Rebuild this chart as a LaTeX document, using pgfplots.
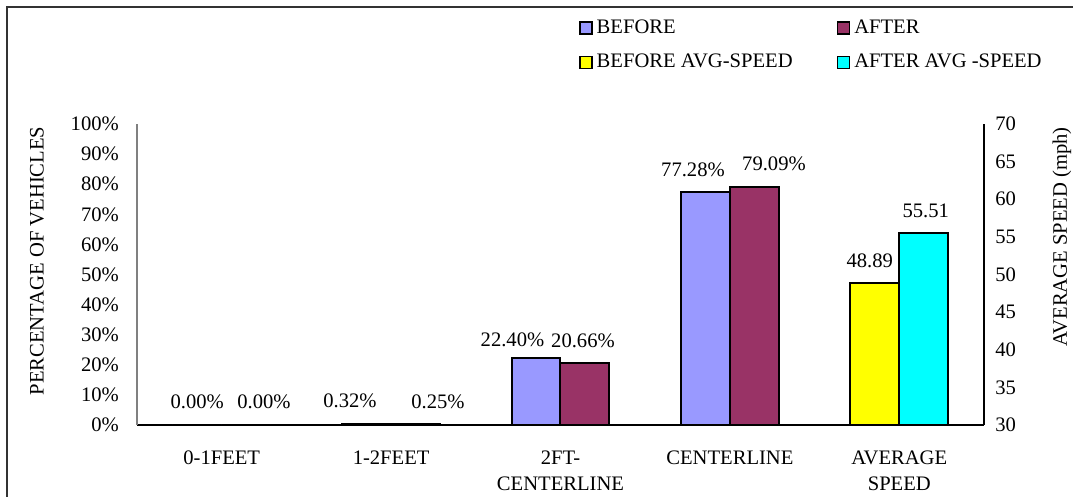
\documentclass[border=0pt]{standalone}
\usepackage{fontspec}
\setmainfont{Liberation Serif}
\usepackage{pgfplots}
\usepackage{pgfplotstable}
\pgfplotsset{compat=1.18}

\definecolor{beforeC}{HTML}{9999FF}
\definecolor{afterC}{HTML}{993366}
\definecolor{spdB}{HTML}{FFFF00}
\definecolor{spdA}{HTML}{00FFFF}

% x = category, y = value, dx/dy = label offset from category centre (pt)
\pgfplotstableread{
x y dx dy
0 0.00 -12.25 11.5
1 0.32 -20.55 11.5
2 22.40 -24.0 9
3 77.28 -18.45 11.35
}\before
\pgfplotstableread{
x y dx dy
0 0.00 21.15 11.5
1 0.25 23.45 11
2 20.66 11.25 11
3 79.09 22.05 11.35
}\after
\pgfplotstableread{
x y dx dy
4 48.89 -14.75 11
}\spdbefore
\pgfplotstableread{
x y dx dy
4 55.51 13.25 11
}\spdafter

\pgfplotsset{
  barlab/.style={
    visualization depends on={\thisrow{dx} \as \dx},
    visualization depends on={\thisrow{dy} \as \dy},
    every node near coord/.append style={anchor=center, xshift=\dx pt, yshift=\dy pt, inner sep=0pt},
  },
  sq/.style={legend image code/.code={\draw[##1, line width=0.8pt] (0pt,-3pt) rectangle (6pt,3pt);}},
}

\begin{document}
\begin{tikzpicture}[font=\fontsize{10.3}{13}\selectfont]
\useasboundingbox (-68.5pt,-36pt) rectangle (468pt,212.5pt);
\draw[black!80, line width=1pt] (-65pt,-40pt) -- (-65pt,209pt) -- (472pt,209pt);

\begin{axis}[
  at={(0,0)}, anchor=south west,
  width=423.5pt, height=150.5pt, scale only axis,
  xmin=-0.5, xmax=4.5, ymin=0, ymax=100,
  axis x line*=bottom, axis y line*=left,
  x axis line style={-, black, line width=0.6pt},
  y axis line style={-, black!50, line width=0.6pt},
  tick style={draw=none},
  xtick={0,...,4},
  xticklabels={0-1FEET, 1-2FEET, {2FT-\\CENTERLINE}, CENTERLINE, {AVERAGE\\SPEED}},
  xticklabel style={align=center, anchor=north, inner sep=0pt, yshift=-12.6pt},
  ytick={0,10,...,100},
  yticklabels={0\%,10\%,20\%,30\%,40\%,50\%,60\%,70\%,80\%,90\%,100\%},
  yticklabel style={anchor=east, inner sep=0pt, xshift=-8.9pt},
  ylabel={PERCENTAGE OF VEHICLES},
  ylabel style={at={(axis description cs:-0.118,0.545)}, anchor=center},
  /pgf/number format/assume math mode=true,
]
\addplot[ybar, bar width=0.289, bar shift=-0.1445, fill=beforeC, draw=black, line width=1pt,
  barlab, nodes near coords={\pgfmathprintnumber[fixed,fixed zerofill,precision=2,assume math mode=true]{\pgfplotspointmeta}\%}]
  table[x=x, y=y] {\before};
\addplot[ybar, bar width=0.289, bar shift=0.1445, fill=afterC, draw=black, line width=1pt,
  barlab, nodes near coords={\pgfmathprintnumber[fixed,fixed zerofill,precision=2,assume math mode=true]{\pgfplotspointmeta}\%}]
  table[x=x, y=y] {\after};
\end{axis}

\begin{axis}[
  at={(0,0)}, anchor=south west,
  width=423.5pt, height=150.5pt, scale only axis,
  xmin=-0.5, xmax=4.5, ymin=30, ymax=70,
  axis x line=none, axis y line*=right,
  y axis line style={-, black, line width=0.6pt},
  tick style={draw=none},
  ytick={30,35,...,70},
  yticklabel style={anchor=west, inner sep=0pt, xshift=5.5pt},
  ylabel={AVERAGE SPEED (mph)},
  ylabel style={at={(axis description cs:1.092,0.625)}, anchor=center, rotate=0},
  /pgf/number format/assume math mode=true,
  legend columns=2,
  legend cell align=left,
  legend style={draw=none, fill=none, inner sep=0pt, outer sep=0pt,
    at={(0.522,1.36)}, anchor=north west,
    row sep=5pt, column sep=0pt,
    /tikz/column 2/.style={column sep=20pt}},
]
\addlegendimage{sq, fill=beforeC, draw=black}
\addlegendentry{BEFORE}
\addlegendimage{sq, fill=afterC, draw=black}
\addlegendentry{AFTER}
\addplot[ybar, sq, bar width=0.289, bar shift=-0.1445, fill=spdB, draw=black, line width=1pt,
  barlab, nodes near coords={\pgfmathprintnumber[fixed,fixed zerofill,precision=2,assume math mode=true]{\pgfplotspointmeta}}]
  table[x=x, y=y] {\spdbefore};
\addlegendentry{BEFORE AVG-SPEED}
\addplot[ybar, sq, bar width=0.289, bar shift=0.1445, fill=spdA, draw=black, line width=1pt,
  barlab, nodes near coords={\pgfmathprintnumber[fixed,fixed zerofill,precision=2,assume math mode=true]{\pgfplotspointmeta}}]
  table[x=x, y=y] {\spdafter};
\addlegendentry{AFTER AVG -SPEED}
\end{axis}
\end{tikzpicture}
\end{document}
